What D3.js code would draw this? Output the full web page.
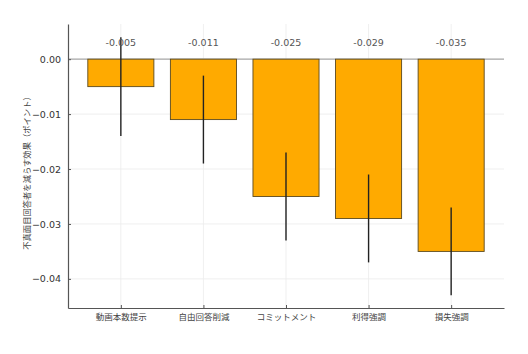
<!DOCTYPE html>
<html>
<head>
<meta charset="utf-8">
<script src="https://cdn.jsdelivr.net/npm/d3@7"></script>
<style>
  body { margin: 0; background: #fff; }
  text { font-family: "DejaVu Sans", "Noto Sans CJK JP", sans-serif; }
</style>
</head>
<body>
<svg id="drawing_region"></svg>
<script>
// data
const categories = ['動画本数提示', '自由回答削減', 'コミットメント', '利得強調', '損失強調'];
const effects = [-0.005, -0.011, -0.025, -0.029, -0.035];
const errors = [0.009, 0.008, 0.008, 0.008, 0.008];
const yTicks = [0, -0.01, -0.02, -0.03, -0.04];
const yLabel = '不真面目回答者を減らす効果（ポイント）';

const width = 528, height = 354;
const margin = {top: 24, right: 24, bottom: 46, left: 68};
const innerW = width - margin.left - margin.right;
const innerH = height - margin.top - margin.bottom;

const svg = d3.select('#drawing_region')
    .attr('width', width)
    .attr('height', height);

const chart = svg.append('g')
    .attr('transform', `translate(${margin.left}, ${margin.top})`);

const xscale = d3.scaleLinear()
    .domain([-0.64, categories.length - 1 + 0.64])
    .range([0, innerW]);

const yscale = d3.scaleLinear()
    .domain([-0.0453, 0.0064])
    .range([innerH, 0]);

const barW = xscale(0.8) - xscale(0);

// grid
chart.append('g').selectAll('line.gy').data(yTicks).enter()
    .append('line')
    .attr('x1', 0).attr('x2', innerW)
    .attr('y1', d => yscale(d)).attr('y2', d => yscale(d))
    .attr('stroke', '#ebebeb').attr('stroke-width', 0.8);

chart.append('g').selectAll('line.gx').data(categories).enter()
    .append('line')
    .attr('x1', (d, i) => xscale(i)).attr('x2', (d, i) => xscale(i))
    .attr('y1', 0).attr('y2', innerH)
    .attr('stroke', '#ebebeb').attr('stroke-width', 0.8);

// zero line
chart.append('line')
    .attr('x1', 0).attr('x2', innerW)
    .attr('y1', yscale(0)).attr('y2', yscale(0))
    .attr('stroke', '#aaaaaa').attr('stroke-width', 1.2);

// bars
chart.selectAll('rect.bar').data(effects).enter()
    .append('rect')
    .attr('x', (d, i) => xscale(i) - barW / 2)
    .attr('y', yscale(0))
    .attr('width', barW)
    .attr('height', d => yscale(d) - yscale(0))
    .attr('fill', '#ffaa00')
    .attr('stroke', '#5c4a1e')
    .attr('stroke-width', 0.9);

// error bars
chart.selectAll('line.err').data(effects).enter()
    .append('line')
    .attr('x1', (d, i) => xscale(i)).attr('x2', (d, i) => xscale(i))
    .attr('y1', (d, i) => yscale(d + errors[i]))
    .attr('y2', (d, i) => yscale(d - errors[i]))
    .attr('stroke', '#222').attr('stroke-width', 1.4);

// value labels
chart.selectAll('text.val').data(effects).enter()
    .append('text')
    .attr('x', (d, i) => xscale(i))
    .attr('y', yscale(0) - 13)
    .attr('text-anchor', 'middle')
    .attr('font-size', 9.5)
    .attr('fill', '#555')
    .text(d => d.toFixed(3));

// axes
const yaxis = d3.axisLeft(yscale)
    .tickValues(yTicks)
    .tickFormat(d => d3.format('.2f')(d).replace('-', '−'))
    .tickSizeInner(-3)
    .tickSizeOuter(0)
    .tickPadding(7);

const xaxis = d3.axisBottom(xscale)
    .tickValues(d3.range(categories.length))
    .tickFormat(i => categories[i])
    .tickSizeInner(-3)
    .tickSizeOuter(0)
    .tickPadding(6);

const yg = chart.append('g').call(yaxis);
yg.select('.domain').attr('stroke', '#555').attr('stroke-width', 1.2);
yg.selectAll('.tick line').attr('stroke', '#555');
yg.selectAll('.tick text').attr('font-size', 9.5).attr('fill', '#333')
    .style('font-family', '"DejaVu Sans", sans-serif');

const xg = chart.append('g')
    .attr('transform', `translate(0, ${innerH})`)
    .call(xaxis);
xg.select('.domain').attr('stroke', '#555').attr('stroke-width', 1.2);
xg.selectAll('.tick line').attr('stroke', '#555');
xg.selectAll('.tick text').attr('font-size', 8.5).attr('fill', '#444')
    .style('font-family', '"Noto Sans CJK JP", sans-serif');

// y label
svg.append('text')
    .attr('transform', `translate(30, ${margin.top + innerH / 2 + 5}) rotate(-90)`)
    .attr('text-anchor', 'middle')
    .attr('font-size', 8.3)
    .attr('fill', '#444')
    .style('font-family', '"Noto Sans CJK JP", sans-serif')
    .text(yLabel);
</script>
</body>
</html>
